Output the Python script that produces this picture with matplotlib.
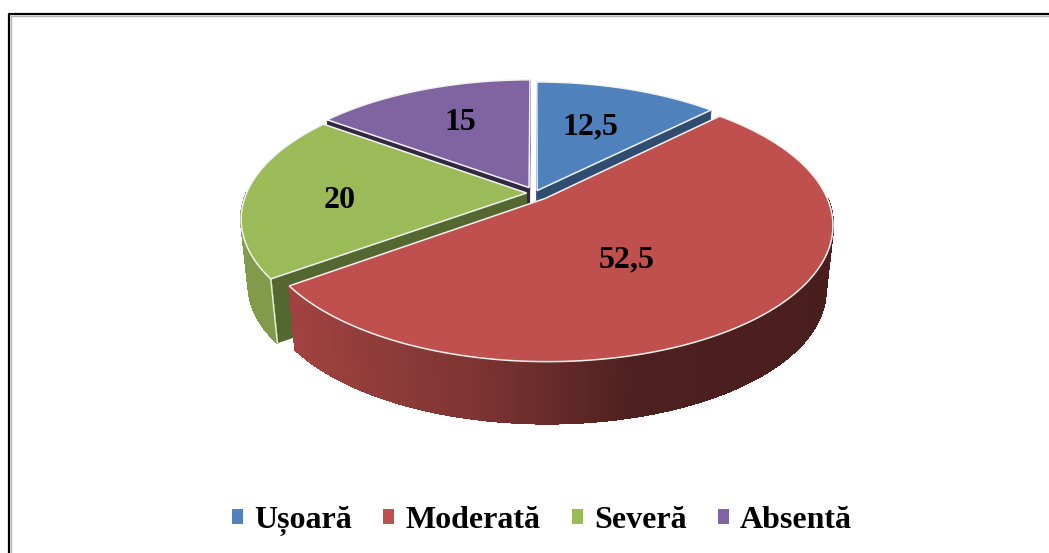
import numpy as np
import matplotlib
matplotlib.use('Agg')
import matplotlib.pyplot as plt
from matplotlib.patches import Patch

plt.rcParams['font.family'] = ['Liberation Serif', 'DejaVu Serif']

categories = ['Ușoară', 'Moderată', 'Severă', 'Absentă']
values = [12.5, 52.5, 20, 15]
value_labels = ['12,5', '52,5', '20', '15']

colors = ['#4f81bd', '#c0504d', '#9bbb59', '#8064a2']
explode = [0.02, 0.055, 0.03, 0.047]
edge_shade = [0.6, 0.6, 0.55, 0.4]
draw_order = [3, 0, 2, 1]
label_pos = [(590, 127), (627, 260), (340, 201), (460, 123)]

# projection of the pie disc, all in pixels
cx, cy = 535, 193
a, b, k = 280, 130, 0.189
depth = 66
shrink = 0.975


def project(X, Y):
    s = 1 / (1 + k * Y)
    return cx + a * X * s, cy - b * Y * s


def lower(x, y):
    return cx + (x - cx) * shrink, cy + (y - cy) * shrink + depth


def shade(col, f):
    return tuple(c * f for c in matplotlib.colors.to_rgb(col))


fig = plt.figure(figsize=(10.49, 5.53), dpi=100)
ax = fig.add_axes([0, 0, 1, 1])
ax.set_xlim(0, 1049)
ax.set_ylim(553, 0)
ax.axis('off')

# outer frame
ax.plot([10.5, 10.5, 1049], [553, 15.5, 15.5], color='#b4b4b4', lw=1, zorder=1)
ax.plot([9, 9, 1049], [553, 14, 14], color='black', lw=1.6, zorder=1)

ends = np.cumsum(values) / np.sum(values) * 2 * np.pi
starts = ends - np.array(values) / np.sum(values) * 2 * np.pi

z = 2
for i in draw_order:
    mid = (starts[i] + ends[i]) / 2
    x0, y0 = explode[i] * np.sin(mid), explode[i] * np.cos(mid)
    t = np.linspace(starts[i], ends[i], 160)
    ax_x, ax_y = project(x0 + np.sin(t), y0 + np.cos(t))
    ap_x, ap_y = project(x0, y0)
    lx, ly = lower(ax_x, ax_y)
    lap_x, lap_y = lower(ap_x, ap_y)

    # flat cut walls
    for n in (0, -1):
        ax.fill([ap_x, ax_x[n], lx[n], lap_x], [ap_y, ax_y[n], ly[n], lap_y],
                color=shade(colors[i], edge_shade[i]), lw=0.6, zorder=z)

    # curved outer wall, darker towards the right, front half only
    for j in range(len(t) - 1):
        if np.cos(t[j]) > 0:
            continue
        f = np.interp(ax_x[j], [240, 295, 480, 640, 835], [0.83, 0.83, 0.65, 0.40, 0.38])
        col = shade(colors[i], f)
        ax.fill([ax_x[j], ax_x[j + 1], lx[j + 1], lx[j]],
                [ax_y[j], ax_y[j + 1], ly[j + 1], ly[j]],
                color=col, lw=1, antialiased=False, zorder=z)
        ax.plot(lx[j:j + 2], ly[j:j + 2], color=col, lw=1.2, zorder=z)
    if categories[i] == 'Severă':
        ax.plot([ax_x[0], lx[0]], [ax_y[0], ly[0]], color='#e8eede', lw=1, zorder=z)

    # top face
    ax.fill(np.r_[ap_x, ax_x], np.r_[ap_y, ax_y], facecolor=colors[i],
            edgecolor='#f2f2f2', lw=1.1, joinstyle='miter', zorder=z + 1)
    z += 2

for txt, (x, y) in zip(value_labels, label_pos):
    ax.text(x, y, txt, ha='center', va='center', fontsize=23, fontweight='bold', zorder=20)

handles = [Patch(facecolor=c, edgecolor='none', label=n) for c, n in zip(colors, categories)]
leg = ax.legend(handles=handles, ncol=4, frameon=False,
                prop={'size': 23, 'weight': 'bold'},
                loc='center', bbox_to_anchor=(542 / 1049, 1 - 521 / 553),
                handlelength=0.35, handleheight=0.35, handletextpad=0.35,
                columnspacing=0.97, borderpad=0, borderaxespad=0)

fig.savefig('out.png', dpi=100)
